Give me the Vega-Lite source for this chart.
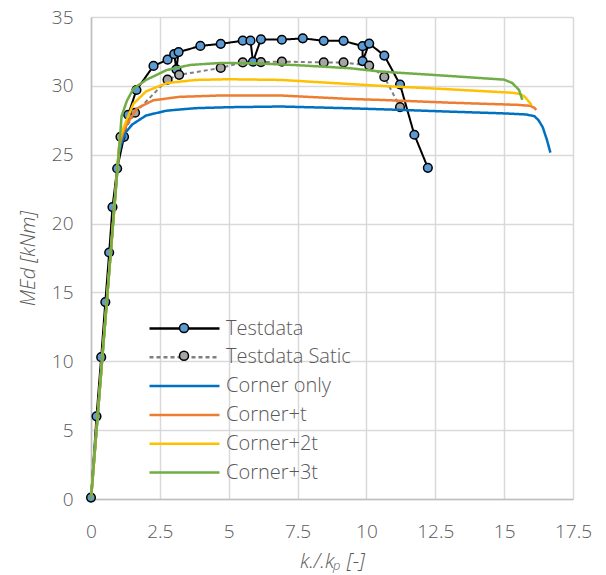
{
  "$schema": "https://vega.github.io/schema/vega-lite/v6.json",
  "width": 482,
  "height": 482,
  "autosize": {"type": "none"},
  "padding": {"left": 91, "top": 17, "right": 33, "bottom": 76},
  "background": "white",
  "config": {
    "view": {"stroke": null},
    "font": "Open Sans",
    "axis": {
      "labelFont": "Open Sans", "labelFontSize": 19, "labelColor": "#595959", "labelFontWeight": 300,
      "titleFont": "Open Sans", "titleFontSize": 20, "titleColor": "#595959", "titleFontWeight": 300, "titleFontStyle": "italic",
      "gridColor": "#D9D9D9", "gridWidth": 1.5, "domainColor": "#BFBFBF", "domainWidth": 1.5,
      "ticks": false, "tickSize": 0, "labelFlush": false, "labelOverlap": false
    },
    "legend": {"padding": 0}
  },
  "data": {"values": [
    {"s": "Testdata", "x": 0, "y": 0.1},
    {"s": "Testdata", "x": 0.2, "y": 6.0},
    {"s": "Testdata", "x": 0.37, "y": 10.3},
    {"s": "Testdata", "x": 0.52, "y": 14.3},
    {"s": "Testdata", "x": 0.66, "y": 17.9},
    {"s": "Testdata", "x": 0.78, "y": 21.2},
    {"s": "Testdata", "x": 0.95, "y": 24.0},
    {"s": "Testdata", "x": 1.2, "y": 26.3},
    {"s": "Testdata", "x": 1.35, "y": 27.9},
    {"s": "Testdata", "x": 1.65, "y": 29.7},
    {"s": "Testdata", "x": 2.27, "y": 31.45},
    {"s": "Testdata", "x": 2.78, "y": 31.9},
    {"s": "Testdata", "x": 3.02, "y": 32.3},
    {"s": "Testdata", "x": 3.1, "y": 31.2},
    {"s": "Testdata", "x": 3.18, "y": 32.45},
    {"s": "Testdata", "x": 3.97, "y": 32.9},
    {"s": "Testdata", "x": 4.71, "y": 33.05},
    {"s": "Testdata", "x": 5.51, "y": 33.28},
    {"s": "Testdata", "x": 5.79, "y": 33.28},
    {"s": "Testdata", "x": 5.88, "y": 31.75},
    {"s": "Testdata", "x": 6.17, "y": 33.38},
    {"s": "Testdata", "x": 6.93, "y": 33.35},
    {"s": "Testdata", "x": 7.69, "y": 33.45},
    {"s": "Testdata", "x": 8.45, "y": 33.27},
    {"s": "Testdata", "x": 9.17, "y": 33.27},
    {"s": "Testdata", "x": 9.86, "y": 32.88},
    {"s": "Testdata", "x": 9.86, "y": 31.8},
    {"s": "Testdata", "x": 10.1, "y": 33.07},
    {"s": "Testdata", "x": 10.65, "y": 32.2},
    {"s": "Testdata", "x": 11.22, "y": 30.1},
    {"s": "Testdata", "x": 11.74, "y": 26.45},
    {"s": "Testdata", "x": 12.23, "y": 24.05},
    {"s": "Testdata Satic", "x": 1.07, "y": 26.3},
    {"s": "Testdata Satic", "x": 1.6, "y": 28.05},
    {"s": "Testdata Satic", "x": 2.78, "y": 30.45},
    {"s": "Testdata Satic", "x": 3.2, "y": 30.8},
    {"s": "Testdata Satic", "x": 4.71, "y": 31.3},
    {"s": "Testdata Satic", "x": 5.51, "y": 31.7},
    {"s": "Testdata Satic", "x": 6.17, "y": 31.72},
    {"s": "Testdata Satic", "x": 6.93, "y": 31.76},
    {"s": "Testdata Satic", "x": 8.45, "y": 31.7},
    {"s": "Testdata Satic", "x": 9.17, "y": 31.7},
    {"s": "Testdata Satic", "x": 10.1, "y": 31.47},
    {"s": "Testdata Satic", "x": 10.65, "y": 30.65},
    {"s": "Testdata Satic", "x": 11.22, "y": 28.45},
    {"s": "Corner only", "x": 0, "y": 0},
    {"s": "Corner only", "x": 1.0, "y": 25.0},
    {"s": "Corner only", "x": 1.1, "y": 25.8},
    {"s": "Corner only", "x": 1.25, "y": 26.6},
    {"s": "Corner only", "x": 1.5, "y": 27.2},
    {"s": "Corner only", "x": 2.0, "y": 27.85},
    {"s": "Corner only", "x": 2.75, "y": 28.2},
    {"s": "Corner only", "x": 3.8, "y": 28.38},
    {"s": "Corner only", "x": 5.0, "y": 28.45},
    {"s": "Corner only", "x": 6.9, "y": 28.5},
    {"s": "Corner only", "x": 9.4, "y": 28.37},
    {"s": "Corner only", "x": 11.0, "y": 28.27},
    {"s": "Corner only", "x": 13.0, "y": 28.13},
    {"s": "Corner only", "x": 15.0, "y": 28.0},
    {"s": "Corner only", "x": 15.8, "y": 27.92},
    {"s": "Corner only", "x": 16.1, "y": 27.8},
    {"s": "Corner only", "x": 16.25, "y": 27.5},
    {"s": "Corner only", "x": 16.4, "y": 27.0},
    {"s": "Corner only", "x": 16.55, "y": 26.1},
    {"s": "Corner only", "x": 16.68, "y": 25.15},
    {"s": "Corner+t", "x": 0, "y": 0},
    {"s": "Corner+t", "x": 1.02, "y": 25.6},
    {"s": "Corner+t", "x": 1.15, "y": 26.5},
    {"s": "Corner+t", "x": 1.3, "y": 27.2},
    {"s": "Corner+t", "x": 1.66, "y": 28.35},
    {"s": "Corner+t", "x": 2.26, "y": 28.95},
    {"s": "Corner+t", "x": 3.2, "y": 29.2},
    {"s": "Corner+t", "x": 4.7, "y": 29.3},
    {"s": "Corner+t", "x": 6.9, "y": 29.3},
    {"s": "Corner+t", "x": 9.4, "y": 29.05},
    {"s": "Corner+t", "x": 10.5, "y": 28.98},
    {"s": "Corner+t", "x": 13.0, "y": 28.78},
    {"s": "Corner+t", "x": 15.5, "y": 28.62},
    {"s": "Corner+t", "x": 15.95, "y": 28.55},
    {"s": "Corner+t", "x": 16.1, "y": 28.4},
    {"s": "Corner+t", "x": 16.17, "y": 28.25},
    {"s": "Corner+2t", "x": 0, "y": 0},
    {"s": "Corner+2t", "x": 1.05, "y": 26.2},
    {"s": "Corner+2t", "x": 1.17, "y": 26.9},
    {"s": "Corner+2t", "x": 1.54, "y": 28.7},
    {"s": "Corner+2t", "x": 2.0, "y": 29.6},
    {"s": "Corner+2t", "x": 2.75, "y": 30.2},
    {"s": "Corner+2t", "x": 3.8, "y": 30.43},
    {"s": "Corner+2t", "x": 5.0, "y": 30.48},
    {"s": "Corner+2t", "x": 6.9, "y": 30.43},
    {"s": "Corner+2t", "x": 10.5, "y": 30.0},
    {"s": "Corner+2t", "x": 13.0, "y": 29.75},
    {"s": "Corner+2t", "x": 15.3, "y": 29.5},
    {"s": "Corner+2t", "x": 15.6, "y": 29.4},
    {"s": "Corner+2t", "x": 15.75, "y": 29.2},
    {"s": "Corner+2t", "x": 15.9, "y": 28.85},
    {"s": "Corner+2t", "x": 16.0, "y": 28.6},
    {"s": "Corner+3t", "x": 0, "y": 0},
    {"s": "Corner+3t", "x": 1.05, "y": 26.2},
    {"s": "Corner+3t", "x": 1.11, "y": 27.8},
    {"s": "Corner+3t", "x": 1.3, "y": 28.9},
    {"s": "Corner+3t", "x": 1.54, "y": 29.8},
    {"s": "Corner+3t", "x": 2.0, "y": 30.43},
    {"s": "Corner+3t", "x": 2.75, "y": 31.15},
    {"s": "Corner+3t", "x": 3.6, "y": 31.52},
    {"s": "Corner+3t", "x": 4.7, "y": 31.66},
    {"s": "Corner+3t", "x": 5.9, "y": 31.64},
    {"s": "Corner+3t", "x": 7.5, "y": 31.5},
    {"s": "Corner+3t", "x": 9.4, "y": 31.28},
    {"s": "Corner+3t", "x": 10.5, "y": 31.04},
    {"s": "Corner+3t", "x": 13.0, "y": 30.72},
    {"s": "Corner+3t", "x": 15.0, "y": 30.45},
    {"s": "Corner+3t", "x": 15.3, "y": 30.2},
    {"s": "Corner+3t", "x": 15.54, "y": 29.7},
    {"s": "Corner+3t", "x": 15.66, "y": 28.98}
  ]},
  "encoding": {
    "x": {
      "field": "x", "type": "quantitative",
      "scale": {"domain": [0, 17.5], "nice": false, "zero": false},
      "axis": {
        "values": [0, 2.5, 5, 7.5, 10, 12.5, 15, 17.5],
        "labelExpr": "'' + datum.value",
        "labelPadding": 32, "labelBaseline": "middle",
        "title": "k./.kₚ [-]", "titleX": 241, "titleY": 68, "titleBaseline": "alphabetic"
      }
    },
    "y": {
      "field": "y", "type": "quantitative",
      "scale": {"domain": [0, 35], "nice": false, "zero": false},
      "axis": {
        "values": [0, 5, 10, 15, 20, 25, 30, 35],
        "labelPadding": 18,
        "title": "MEd [kNm]", "titleX": -63, "titleY": 241, "titleBaseline": "middle", "titleAngle": 270
      }
    }
  },
  "layer": [
    {
      "transform": [{"filter": "datum.s === 'Testdata' || datum.s === 'Testdata Satic'"}],
      "mark": {"type": "line", "strokeWidth": 2},
      "encoding": {
        "order": {"value": null},
        "color": {
          "field": "s", "type": "nominal",
          "scale": {"domain": ["Testdata", "Testdata Satic", "Corner only", "Corner+t", "Corner+2t", "Corner+3t"],
                    "range": ["#000000", "#7F7F7F", "#0070C0", "#ED7D31", "#FFC000", "#70AD47"]},
          "legend": {
            "orient": "none", "legendX": 82, "legendY": 300, "title": null,
            "symbolType": "M-3.5,0L3.5,0", "symbolSize": 400, "symbolStrokeWidth": 2.5,
            "labelFont": "Open Sans", "labelFontSize": 20, "labelColor": "#595959", "labelFontWeight": 300,
            "labelOffset": 30, "rowPadding": 6.8
          }
        },
        "strokeDash": {
          "field": "s", "type": "nominal",
          "scale": {"domain": ["Testdata", "Testdata Satic", "Corner only", "Corner+t", "Corner+2t", "Corner+3t"],
                    "range": [[1, 0], [4, 3], [1, 0], [1, 0], [1, 0], [1, 0]]}
        }
      }
    },
    {
      "transform": [{"filter": "datum.s === 'Testdata' || datum.s === 'Testdata Satic'"}],
      "mark": {"type": "point", "filled": true, "size": 75, "stroke": "black", "strokeWidth": 1.5, "opacity": 1},
      "encoding": {
        "fill": {
          "field": "s", "type": "nominal",
          "scale": {"domain": ["Testdata", "Testdata Satic"], "range": ["#5B9BD5", "#A5A5A5"]},
          "legend": {
            "orient": "none", "legendX": 82, "legendY": 300, "title": null,
            "symbolType": "M0.45,0A0.45,0.45,0,1,1,-0.45,0A0.45,0.45,0,1,1,0.45,0", "symbolSize": 400,
            "symbolStrokeColor": "black", "symbolStrokeWidth": 1.5,
            "labelFont": "Open Sans", "labelFontSize": 20, "labelOpacity": 0, "labelFontWeight": 300,
            "labelOffset": 30, "rowPadding": 6.8,
            "encode": {"symbols": {"update": {"stroke": {"value": "black"}, "strokeWidth": {"value": 1.5}, "opacity": {"value": 1}}}}
          }
        }
      }
    },
    {
      "transform": [{"filter": "datum.s !== 'Testdata' && datum.s !== 'Testdata Satic'"}],
      "mark": {"type": "line", "strokeWidth": 2.5},
      "encoding": {
        "order": {"value": null},
        "color": {"field": "s", "type": "nominal"},
        "strokeDash": {"field": "s", "type": "nominal"}
      }
    }
  ]
}
